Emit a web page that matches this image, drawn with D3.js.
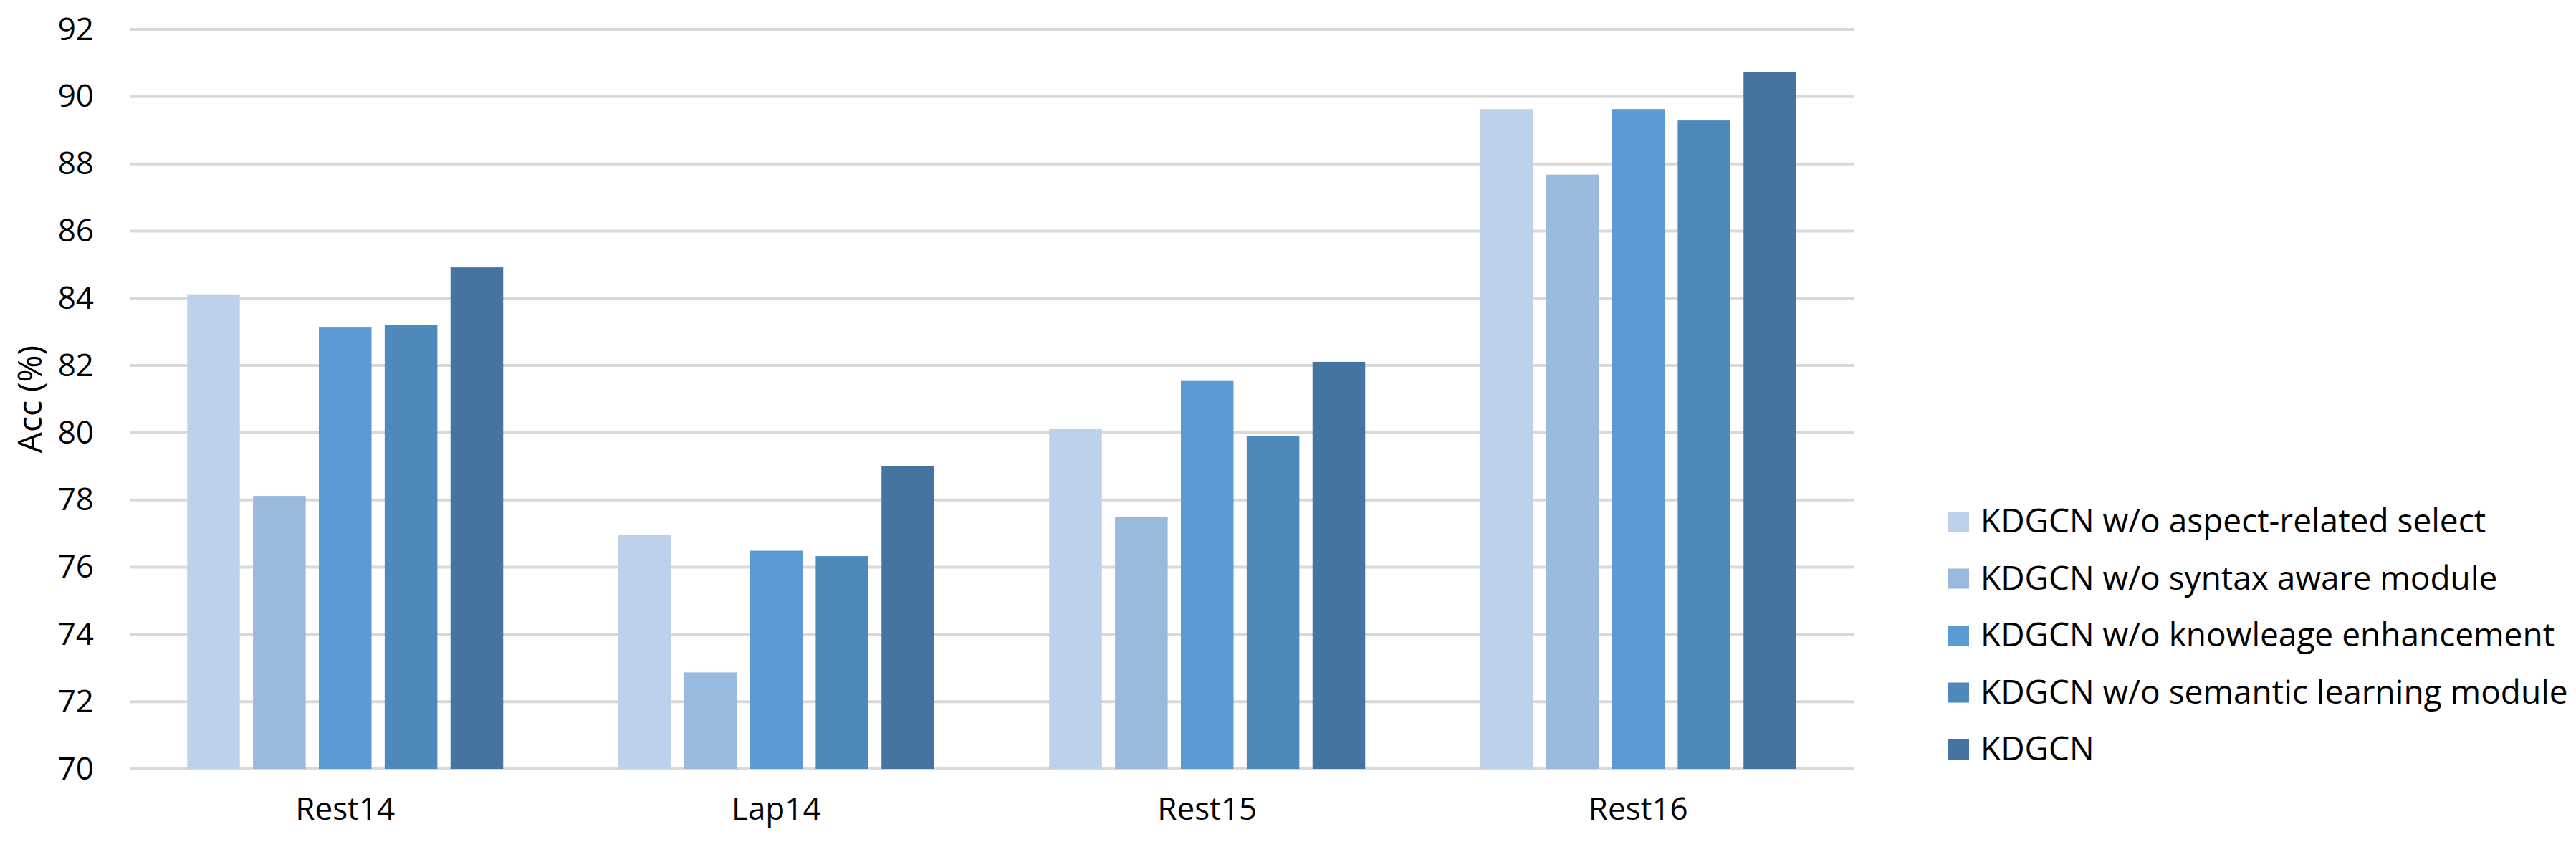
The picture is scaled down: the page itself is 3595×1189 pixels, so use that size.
<!DOCTYPE html>
<html>
<head>
<meta charset="utf-8">
<script src="https://cdn.jsdelivr.net/npm/d3@7"></script>
<style>
body { margin: 0; background: #fff; }
text { font-family: "Liberation Sans Narrow", "Open Sans", sans-serif; fill: #000; }
</style>
</head>
<body>
<svg id="chart" width="3595" height="1189"></svg>
<script>
// données
var categories = ["Rest14", "Lap14", "Rest15", "Rest16"];
var series = [
  "KDGCN w/o aspect-related select",
  "KDGCN w/o syntax aware module",
  "KDGCN w/o knowleage enhancement",
  "KDGCN w/o semantic learning module",
  "KDGCN"
];
var values = [
  [84.12, 76.96, 80.11, 89.63],
  [78.12, 72.87, 77.50, 87.68],
  [83.13, 76.49, 81.54, 89.63],
  [83.21, 76.33, 79.90, 89.29],
  [84.92, 79.01, 82.11, 90.73]
];
var yTicks = [70, 72, 74, 76, 78, 80, 82, 84, 86, 88, 90, 92];
var colors = ["#bdd1ea", "#99b9de", "#5b9bd5", "#4f89bc", "#44749f"];

var plot = {left: 181, right: 2587, top: 41, bottom: 1073};
var svg = d3.select("#chart");

var x = d3.scaleBand().domain(categories).range([plot.left, plot.right]).padding(0);
var groupW = 441;
var xs = d3.scaleBand().domain(d3.range(series.length))
  .range([(x.bandwidth() - groupW) / 2, (x.bandwidth() + groupW) / 2])
  .paddingInner(0.2);
var y = d3.scaleLinear().domain([70, 92]).range([plot.bottom, plot.top]);

// grille
svg.append("g").selectAll("line").data(yTicks).enter().append("line")
  .attr("x1", plot.left).attr("x2", plot.right)
  .attr("y1", d => y(d)).attr("y2", d => y(d))
  .attr("stroke", "#d9d9d9").attr("stroke-width", 4);

// axe y
var yAxis = svg.append("g").attr("transform", "translate(" + (plot.left - 50) + ",0)")
  .call(d3.axisLeft(y).tickValues(yTicks).tickSize(0).tickPadding(0));
yAxis.select(".domain").remove();
yAxis.selectAll("text").style("font-size", "44px")
  .style("font-family", "'Liberation Sans Narrow', 'Open Sans', sans-serif").attr("fill", "#000");

// barres
series.forEach(function (s, i) {
  svg.append("g").selectAll("rect").data(values[i]).enter().append("rect")
    .attr("x", (d, j) => x(categories[j]) + xs(i))
    .attr("width", xs.bandwidth())
    .attr("y", d => y(d))
    .attr("height", d => y(70) - y(d))
    .attr("fill", colors[i]);
});

// axe x
var xAxis = svg.append("g").attr("transform", "translate(0," + (plot.bottom + 2) + ")")
  .call(d3.axisBottom(x).tickSize(0).tickPadding(38));
xAxis.select(".domain").remove();
xAxis.selectAll("text").style("font-size", "44px")
  .style("font-family", "'Liberation Sans Narrow', 'Open Sans', sans-serif").attr("fill", "#000");

svg.append("text")
  .attr("transform", "translate(58," + ((plot.top + plot.bottom) / 2) + ") rotate(-90)")
  .attr("text-anchor", "middle")
  .style("font-size", "46px")
  .text("Acc (%)");

// légende
var leg = svg.append("g").attr("transform", "translate(2719,728)");
series.forEach(function (s, i) {
  var g = leg.append("g").attr("transform", "translate(0," + (i * 79.5) + ")");
  g.append("rect").attr("x", 0).attr("y", -14).attr("width", 29).attr("height", 28).attr("fill", colors[i]);
  g.append("text").attr("x", 45).attr("y", 15).style("font-size", "46px").text(s);
});
</script>
</body>
</html>
